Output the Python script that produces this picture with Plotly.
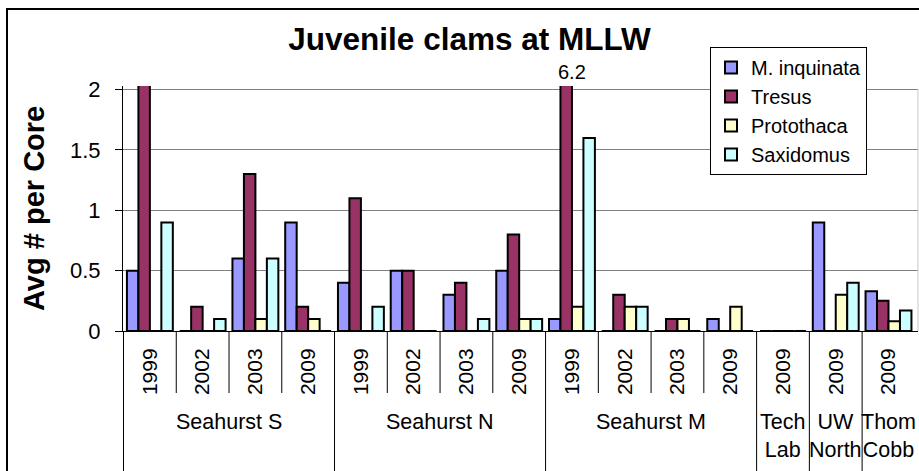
import plotly.graph_objects as go

# one entry per bar group (site + survey year)
site = ["Seahurst S"] * 4 + ["Seahurst N"] * 4 + ["Seahurst M"] * 4 + ["Tech Lab", "UW North", "Thom Cobb"]
year = ["1999", "2002", "2003", "2009", "1999", "2002", "2003", "2009",
        "1999", "2002", "2003", "2009", "2009", "2009", "2009"]

m_inquinata = [0.5, 0, 0.6, 0.9, 0.4, 0.5, 0.3, 0.5, 0.1, 0, 0, 0.1, 0, 0.9, 0.33]
tresus = [2.1, 0.2, 1.3, 0.2, 1.1, 0.5, 0.4, 0.8, 6.2, 0.3, 0.1, 0, 0, 0, 0.25]
protothaca = [0, 0, 0.1, 0.1, 0, 0, 0, 0.1, 0.2, 0.2, 0.1, 0.2, 0, 0.3, 0.08]
saxidomus = [0.9, 0.1, 0.6, 0, 0.2, 0, 0.1, 0.1, 1.6, 0.2, 0, 0, 0, 0.4, 0.17]

site_labels = {"Tech Lab": "Tech<br>Lab", "UW North": "UW<br>North", "Thom Cobb": "Thom<br>Cobb"}
y_max = 2.03

W, H = 919, 471
L, R, T, B = 123, 1, 86, 140
pw, ph = W - L - R, H - T - B


def px_x(px):
    return (px - L) / pw


def px_y(py):
    return (H - B - py) / ph


keys = [s + " " + y for s, y in zip(site, year)]
FONT = "Liberation Sans, Arial, sans-serif"

fig = go.Figure()
for name, vals, col in [("M. inquinata", m_inquinata, "#9999FF"),
                        ("Tresus", tresus, "#993366"),
                        ("Protothaca", protothaca, "#FFFFCC"),
                        ("Saxidomus", saxidomus, "#CCFFFF")]:
    fig.add_trace(go.Bar(x=keys, y=vals, name=name,
                         marker=dict(color=col, line=dict(color="black", width=2))))

# group dividers and year separators below the axis
shapes = []
starts = [i for i in range(len(site)) if i == 0 or site[i] != site[i - 1]]
for i in range(len(site)):
    long_line = i in starts
    shapes.append(dict(type="line", xref="x", yref="paper", x0=i - 0.5, x1=i - 0.5,
                       y0=0, y1=px_y(H + 2) if long_line else px_y(393),
                       line=dict(color="black", width=1)))
# faint right border of the plot area
shapes.append(dict(type="line", xref="paper", yref="paper", x0=1, x1=1, y0=0, y1=px_y(89),
                   line=dict(color="#c8c8c8", width=1)))
# chart frame
shapes.append(dict(type="rect", xref="paper", yref="paper", x0=px_x(7), x1=px_x(W + 20),
                   y0=px_y(9), y1=px_y(H + 20), line=dict(color="black", width=2)))

annotations = []
for k, st in enumerate(starts):
    end = starts[k + 1] if k + 1 < len(starts) else len(site)
    label = site_labels.get(site[st], site[st])
    annotations.append(dict(x=(st + end - 1) / 2, y=px_y(408), xref="x", yref="paper",
                            text=label, showarrow=False, yanchor="top", xanchor="center",
                            font=dict(size=21.5, color="black", family=FONT)))

# value label for the clipped bar
big = tresus.index(max(tresus))
annotations.append(dict(x=big, y=px_y(72), xref="x", yref="paper", text=str(tresus[big]),
                        showarrow=False, xanchor="center", yanchor="middle",
                        font=dict(size=20, color="black", family=FONT)))

annotations.append(dict(x=px_x(34), y=px_y(209), xref="paper", yref="paper",
                        text="<b>Avg # per Core</b>", textangle=-90, showarrow=False,
                        xanchor="center", yanchor="middle",
                        font=dict(size=29, color="black", family=FONT)))

fig.update_layout(
    width=W, height=H,
    margin=dict(l=L, r=R, t=T, b=B),
    paper_bgcolor="white", plot_bgcolor="white",
    font=dict(family=FONT, color="black"),
    title=dict(text="<b>Juvenile clams at MLLW</b>", x=469.5 / W, y=1 - 39 / H,
               xanchor="center", yanchor="middle", xref="container", yref="container",
               font=dict(size=31.5, color="black", family=FONT)),
    barmode="group", bargap=0.13, bargroupgap=0,
    legend=dict(x=px_x(710), y=px_y(47), xanchor="left", yanchor="top",
                bgcolor="white", bordercolor="black", borderwidth=1,
                font=dict(size=20, color="black", family=FONT), tracegroupgap=0),
    shapes=shapes, annotations=annotations,
)
fig.update_xaxes(type="category", categoryorder="array", categoryarray=keys,
                 tickvals=keys, ticktext=year, tickangle=-90, ticks="",
                 ticklabelstandoff=8, tickfont=dict(size=21, color="black"),
                 showline=True, linecolor="black", linewidth=1, showgrid=False)
fig.update_yaxes(range=[0, y_max], tickvals=[0, 0.5, 1, 1.5, 2], ticktext=["0", "0.5", "1", "1.5", "2"],
                 ticks="outside", ticklen=7, tickcolor="black", ticklabelstandoff=10,
                 tickfont=dict(size=22, color="black"),
                 showline=True, linecolor="black", linewidth=1,
                 showgrid=True, gridcolor="#808080", gridwidth=1, zeroline=False)

# page body margin would shift the chart by 8px
fig.write_html("out.html", config={"displayModeBar": False},
               post_script="document.body.style.margin='0';document.body.style.overflow='hidden';")
